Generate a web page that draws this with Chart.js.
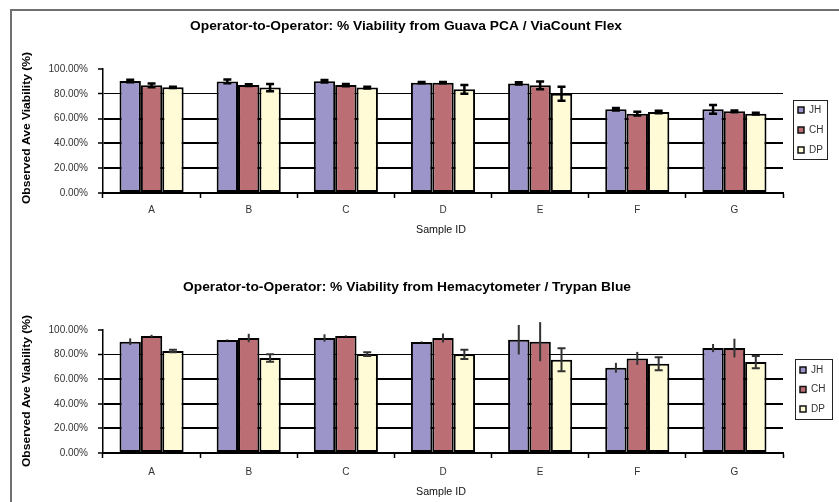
<!DOCTYPE html>
<html>
<head>
<meta charset="utf-8">
<script src="https://cdn.jsdelivr.net/npm/chart.js@4.4.1/dist/chart.umd.min.js"></script>
<style>
  html, body { margin: 0; padding: 0; background: #fff; }
  #wrap { position: relative; width: 839px; height: 502px; overflow: hidden; background: #fff; }
  #frame { position: absolute; left: 10px; top: 9px; width: 900px; height: 600px;
           border-left: 2px solid #707070; border-top: 2px solid #707070; }
  canvas { position: absolute; left: 0; }
  #c1 { top: 0; }
  #c2 { top: 251px; }
</style>
</head>
<body>
<div id="wrap">
  <div id="frame"></div>
  <canvas id="c1" width="839" height="251"></canvas>
  <canvas id="c2" width="839" height="251"></canvas>
</div>
<script>
// Sample IDs and operators
const sampleIds = ['A', 'B', 'C', 'D', 'E', 'F', 'G'];
const operators = ['JH', 'CH', 'DP'];
const yTickValues = [0, 20, 40, 60, 80, 100];

// Guava PCA / ViaCount Flex: mean % viability and error per operator
const guavaJH = [90.3, 90.0, 90.2, 89.0, 88.4, 67.5, 67.5];
const guavaCH = [86.8, 87.0, 87.0, 89.0, 86.8, 64.0, 65.9];
const guavaDP = [85.2, 85.0, 85.0, 83.6, 80.0, 65.3, 64.0];
const guavaJHErr = [1.0, 1.5, 1.0, 0.5, 1.0, 1.0, 3.5];
const guavaCHErr = [1.5, 0.8, 1.0, 0.5, 3.2, 1.5, 0.7];
const guavaDPErr = [0.5, 3.0, 0.7, 3.5, 5.6, 1.0, 0.7];

// Hemacytometer / Trypan Blue: mean % viability and error per operator
const hemaJH = [90.5, 91.8, 93.5, 90.2, 92.1, 69.3, 85.3];
const hemaCH = [95.1, 93.5, 95.1, 93.5, 90.5, 76.9, 85.3];
const hemaDP = [82.9, 77.2, 80.4, 80.2, 75.8, 72.5, 73.9];
const hemaJHErr = [2.7, 0.5, 3.0, 0.5, 12.0, 4.0, 3.3];
const hemaCHErr = [1.0, 3.4, 0.5, 3.7, 15.9, 5.3, 7.6];
const hemaDPErr = [1.0, 3.0, 1.5, 3.8, 9.4, 5.3, 4.9];

const colors = ['#9b95c9', '#bb6f74', '#fffbd6'];
const FONT = "'Liberation Sans', Arial, Helvetica, sans-serif";
Chart.defaults.font.family = FONT;

// draws +/- error bars on top of each bar
const errorBars = {
  id: 'errorBars',
  afterDatasetsDraw(chart, args, opts) {
    const ctx = chart.ctx;
    const y = chart.scales.y;
    chart.data.datasets.forEach((ds, i) => {
      const meta = chart.getDatasetMeta(i);
      const caps = opts.caps[i];
      meta.data.forEach((bar, j) => {
        const v = ds.data[j], e = ds.errors[j];
        const top = y.getPixelForValue(v + e);
        const bot = y.getPixelForValue(v - e);
        ctx.save();
        ctx.strokeStyle = opts.color;
        ctx.lineWidth = opts.width;
        ctx.beginPath();
        ctx.moveTo(bar.x, top);
        ctx.lineTo(bar.x, bot);
        if (caps) {
          ctx.moveTo(bar.x - opts.capHalf, top);
          ctx.lineTo(bar.x + opts.capHalf, top);
          ctx.moveTo(bar.x - opts.capHalf, bot);
          ctx.lineTo(bar.x + opts.capHalf, bot);
        }
        ctx.stroke();
        ctx.restore();
      });
    });
  }
};

function fitText(ctx, text, cx, cy, width, rotate) {
  ctx.save();
  ctx.translate(cx, cy);
  if (rotate) ctx.rotate(-Math.PI / 2);
  const w = ctx.measureText(text).width;
  if (width) ctx.scale(width / w, 1);
  ctx.textAlign = 'center';
  ctx.textBaseline = 'middle';
  ctx.fillText(text, 0, 0);
  ctx.restore();
}

// titles, axis captions and boxed legend
const decor = {
  id: 'decor',
  afterDraw(chart, args, o) {
    const ctx = chart.ctx;
    ctx.save();
    ctx.fillStyle = '#000';
    ctx.font = 'bold 12px ' + FONT;
    fitText(ctx, o.title, o.titleX, o.titleY, o.titleW, false);
    ctx.font = 'bold 10px ' + FONT;
    fitText(ctx, 'Observed Ave Viability (%)', o.yLabX, o.yLabY, o.yLabW, true);
    ctx.font = '10px ' + FONT;
    ctx.fillStyle = '#111';
    fitText(ctx, 'Sample ID', o.xLabX, o.xLabY, 50, false);

    const L = o.legend;
    ctx.strokeStyle = '#222';
    ctx.lineWidth = 1;
    ctx.strokeRect(L.x + 0.5, L.y + 0.5, L.w, L.h);
    chart.data.datasets.forEach((ds, i) => {
      const yy = L.y + L.first + i * L.step;
      ctx.fillStyle = ds.backgroundColor;
      ctx.fillRect(L.x + 5, yy - 3, 6, 6);
      ctx.strokeStyle = '#111';
      ctx.lineWidth = 1.5;
      ctx.strokeRect(L.x + 5, yy - 3, 6, 6);
      ctx.fillStyle = '#333';
      ctx.font = '10px ' + FONT;
      ctx.textAlign = 'left';
      ctx.textBaseline = 'middle';
      ctx.fillText(ds.label, L.x + 16, yy);
    });
    ctx.restore();
  }
};

function makeChart(id, series, errs, cfg) {
  return new Chart(document.getElementById(id), {
    type: 'bar',
    data: {
      labels: sampleIds,
      datasets: operators.map((op, i) => ({
        label: op,
        data: series[i],
        errors: errs[i],
        backgroundColor: colors[i],
        borderColor: '#000',
        borderWidth: 2,
        borderSkipped: false,
        categoryPercentage: 0.66,
        barPercentage: 1.0
      }))
    },
    options: {
      responsive: false,
      animation: false,
      layout: { padding: { top: cfg.top, left: 0, right: 56, bottom: 0 } },
      plugins: {
        legend: { display: false },
        tooltip: { enabled: false },
        errorBars: { caps: cfg.caps, color: cfg.errColor, width: cfg.errWidth, capHalf: 4 },
        decor: cfg.decor
      },
      scales: {
        x: {
          afterFit(s) { s.height = cfg.xHeight; },
          border: { color: '#000', width: 2 },
          grid: { offset: true, drawOnChartArea: false, tickLength: 5, tickColor: '#000', tickWidth: 1.5 },
          ticks: { color: '#333', font: { size: 10 }, padding: cfg.xPad }
        },
        y: {
          min: 0, max: 100,
          afterFit(s) { s.width = 103; },
          afterBuildTicks(s) { s.ticks = yTickValues.map(v => ({ value: v })); },
          border: { color: '#000', width: 1.5 },
          grid: {
            color: c => (c.tick && c.tick.value > 0 && c.tick.value < 100) ? '#000' : 'rgba(0,0,0,0)',
            lineWidth: c => (c.tick && c.tick.value === 80) ? 1 : 2,
            tickColor: '#000', tickLength: 5, tickWidth: 1.5
          },
          ticks: { color: '#333', font: { size: 10 }, padding: 10,
                   callback: v => v.toFixed(2) + '%' }
        }
      }
    },
    plugins: [errorBars, decor]
  });
}

makeChart('c1', [guavaJH, guavaCH, guavaDP], [guavaJHErr, guavaCHErr, guavaDPErr], {
  top: 69, xHeight: 58, xPad: 6, caps: [true, true, true], errColor: '#000', errWidth: 2.5,
  decor: {
    title: 'Operator-to-Operator: % Viability from Guava PCA / ViaCount Flex',
    titleX: 406, titleY: 27, titleW: 432,
    yLabX: 27, yLabY: 128, yLabW: 152,
    xLabX: 441, xLabY: 230,
    legend: { x: 793, y: 100, w: 34, h: 59, first: 10, step: 20 }
  }
});

makeChart('c2', [hemaJH, hemaCH, hemaDP], [hemaJHErr, hemaCHErr, hemaDPErr], {
  top: 79, xHeight: 49, xPad: 8, caps: [false, false, true], errColor: '#333', errWidth: 2,
  decor: {
    title: 'Operator-to-Operator: % Viability from Hemacytometer / Trypan Blue',
    titleX: 407, titleY: 37, titleW: 448,
    yLabX: 27, yLabY: 140, yLabW: 152,
    xLabX: 441, xLabY: 241,
    legend: { x: 795, y: 108, w: 37, h: 60, first: 11, step: 19.5 }
  }
});
</script>
</body>
</html>
